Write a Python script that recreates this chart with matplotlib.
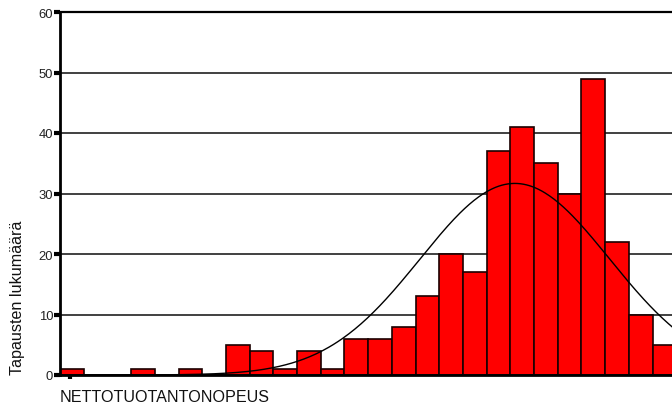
import numpy as np
import matplotlib.pyplot as plt

plt.rcParams['font.family'] = ['Liberation Sans', 'DejaVu Sans']

# histogram counts per class (class width = 1 unit, first class starts at 0)
counts = [1, 0, 0, 1, 0, 1, 0, 5, 4, 1, 4, 1, 6, 6, 8, 13, 20, 17,
          37, 41, 35, 30, 49, 22, 10, 5]
y_ticks = [0, 10, 20, 30, 40, 50, 60]
x_label = "NETTOTUOTANTONOPEUS"
y_label = "Tapausten lukumäärä"

counts = np.array(counts)
edges = np.arange(len(counts))
centers = edges + 0.5

# normal curve fitted to the binned data
n = counts.sum()
mean = (counts * centers).sum() / n
sd = np.sqrt((counts * (centers - mean) ** 2).sum() / n)

fig = plt.figure(figsize=(6.72, 4.14), dpi=100)
ax = fig.add_axes([60 / 672, 38 / 414, 612 / 672, 363 / 414])

ax.set_axisbelow(True)
ax.yaxis.grid(True, color='#202020', linewidth=1.2)
ax.bar(edges, counts, width=1, align='edge', color='#ff0000',
       edgecolor='#1a0000', linewidth=1.2, zorder=2)

xs = np.linspace(0, 26, 400)
ys = n / (sd * np.sqrt(2 * np.pi)) * np.exp(-0.5 * ((xs - mean) / sd) ** 2)
ax.plot(xs, ys, color='black', linewidth=1.0, zorder=3)

ax.set_xlim(0, 612 / 23.7)
ax.set_ylim(0, 60)
ax.set_yticks(y_ticks)
ax.set_xticks([0.44])
ax.set_xticklabels([''])
ax.tick_params(axis='y', length=4, width=3, color='black', labelsize=9.4,
               labelcolor='#222222', pad=1)
ax.tick_params(axis='x', length=3, width=3, color='black')

ax.spines['right'].set_visible(False)
ax.spines['top'].set_linewidth(1.6)
ax.spines['left'].set_linewidth(2)
ax.spines['bottom'].set_linewidth(2)

fig.text(60 / 672, 1 - 398 / 414, x_label, fontsize=11.6, color='#111111',
         ha='left', va='center')
fig.text(18 / 672, 1 - 298 / 414, y_label, fontsize=11.6, color='#111111',
         rotation=90, ha='center', va='center')

fig.savefig('out.png', dpi=100)
